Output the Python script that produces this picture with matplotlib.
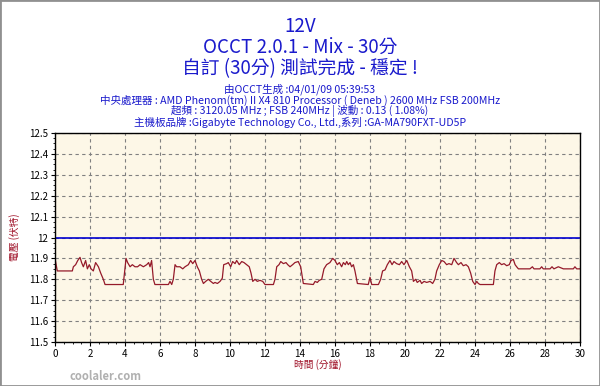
import matplotlib.pyplot as plt
from matplotlib.ticker import MultipleLocator, FormatStrFormatter

plt.rcParams['font.family'] = ['Noto Sans CJK TC', 'DejaVu Sans']

# time (minutes) / 12V reading (volts)
minutes = [0.00, 0.13, 0.99, 1.05, 1.18, 1.30, 1.43, 1.52, 1.62, 1.75, 1.85, 1.96,
           2.06, 2.19, 2.32, 2.48, 2.61, 2.76, 2.86, 3.90, 4.06, 4.15, 4.29, 4.42,
           4.57, 4.72, 4.86, 5.05, 5.24, 5.35, 5.43, 5.52, 5.62, 5.71, 6.48, 6.57,
           6.67, 6.76, 6.86, 6.95, 7.14, 7.30, 7.43, 7.62, 7.75, 7.87, 8.00, 8.13,
           8.25, 8.38, 8.48, 8.61, 8.76, 8.90, 9.05, 9.14, 9.28, 9.43, 9.56, 9.64,
           9.81, 9.90, 10.04, 10.15, 10.29, 10.38, 10.53, 10.67, 10.80, 10.95, 11.10,
           11.20, 11.30, 11.43, 11.56, 11.71, 11.87, 12.00, 12.48, 12.57, 12.67,
           12.80, 12.90, 13.05, 13.20, 13.30, 13.43, 13.58, 13.71, 13.90, 14.04,
           14.19, 14.76, 14.86, 14.99, 15.10, 15.24, 15.37, 15.52, 15.71, 15.87,
           16.00, 16.13, 16.25, 16.38, 16.48, 16.59, 16.67, 16.76, 16.86, 16.95,
           17.05, 17.14, 17.28, 17.90, 18.00, 18.10, 18.48, 18.61, 18.72, 18.86,
           18.99, 19.14, 19.26, 19.37, 19.52, 19.68, 19.81, 19.94, 20.10, 20.25,
           20.38, 20.48, 20.61, 20.70, 20.86, 20.95, 21.09, 21.24, 21.43, 21.58,
           21.71, 21.81, 21.96, 22.10, 22.23, 22.38, 22.51, 22.67, 22.80, 22.95,
           23.05, 23.20, 23.33, 23.49, 23.62, 23.75, 23.87, 24.00, 24.10, 24.19,
           24.29, 25.05, 25.14, 25.24, 25.39, 25.52, 25.66, 25.81, 25.96, 26.06,
           26.19, 26.29, 26.38, 26.48, 27.14, 27.28, 27.37, 27.71, 27.81, 27.90,
           28.29, 28.40, 28.51, 28.76, 28.90, 29.05, 29.62, 29.71, 29.81, 30.00]
volts = [11.90, 11.84, 11.84, 11.86, 11.87, 11.89, 11.905, 11.88, 11.86, 11.89, 11.85, 11.87,
         11.85, 11.84, 11.88, 11.86, 11.83, 11.80, 11.775, 11.775, 11.90, 11.88, 11.86, 11.87,
         11.86, 11.86, 11.87, 11.86, 11.87, 11.88, 11.86, 11.89, 11.80, 11.775, 11.775, 11.79,
         11.775, 11.80, 11.87, 11.86, 11.86, 11.85, 11.86, 11.87, 11.89, 11.875, 11.89, 11.86,
         11.84, 11.80, 11.78, 11.79, 11.80, 11.79, 11.78, 11.785, 11.78, 11.79, 11.805, 11.87,
         11.875, 11.88, 11.86, 11.885, 11.875, 11.89, 11.87, 11.885, 11.88, 11.87, 11.86,
         11.83, 11.79, 11.80, 11.79, 11.795, 11.79, 11.775, 11.775, 11.80, 11.86,
         11.87, 11.885, 11.875, 11.88, 11.87, 11.86, 11.87, 11.88, 11.885, 11.86,
         11.78, 11.775, 11.79, 11.785, 11.795, 11.80, 11.85, 11.87, 11.88, 11.90,
         11.89, 11.87, 11.88, 11.86, 11.88, 11.87, 11.885, 11.87, 11.88, 11.86,
         11.87, 11.84, 11.78, 11.775, 11.81, 11.775, 11.775, 11.80, 11.84, 11.845,
         11.87, 11.89, 11.87, 11.885, 11.875, 11.87, 11.885, 11.87, 11.89, 11.86,
         11.84, 11.79, 11.80, 11.785, 11.795, 11.78, 11.79, 11.785, 11.79, 11.78,
         11.80, 11.84, 11.87, 11.89, 11.885, 11.87, 11.875, 11.87, 11.90, 11.88,
         11.87, 11.88, 11.865, 11.87, 11.86, 11.83, 11.79, 11.775, 11.79, 11.78,
         11.775, 11.775, 11.84, 11.87, 11.88, 11.87, 11.875, 11.865, 11.87, 11.89,
         11.895, 11.87, 11.86, 11.85, 11.85, 11.86, 11.85, 11.85, 11.86, 11.85,
         11.85, 11.86, 11.85, 11.86, 11.855, 11.85, 11.85, 11.86, 11.85, 11.85]
nominal = 12.0

title_lines = ["12V", "OCCT 2.0.1 - Mix - 30分", "自訂 (30分) 測試完成 - 穩定 !"]
info_lines = ["由OCCT生成 :04/01/09 05:39:53",
              "中央處理器 : AMD Phenom(tm) II X4 810 Processor ( Deneb ) 2600 MHz FSB 200MHz",
              "超頻 : 3120.05 MHz ; FSB 240MHz | 波動 : 0.13 ( 1.08%)",
              "主機板品牌 :Gigabyte Technology Co., Ltd.,系列 :GA-MA790FXT-UD5P"]

fig = plt.figure(figsize=(6, 3.86), dpi=100)
fig.patch.set_facecolor('white')
ax = fig.add_axes([55 / 600, 44 / 386, 525 / 600, 209 / 386])
ax.set_facecolor('#fdf7e7')

ax.plot(minutes, volts, color='#951a2a', lw=0.9)
ax.axhline(nominal, color='#0000d0', lw=1.2)

ax.set_xlim(0, 30)
ax.set_ylim(11.5, 12.5)
ax.xaxis.set_major_locator(MultipleLocator(2))
ax.xaxis.set_minor_locator(MultipleLocator(0.5))
ax.yaxis.set_major_locator(MultipleLocator(0.1))
ax.yaxis.set_minor_locator(MultipleLocator(0.025))
ax.yaxis.set_major_formatter(FormatStrFormatter('%g'))
ax.grid(True, which='major', ls=(0, (3, 3)), color='#808080', lw=0.8)
ax.tick_params(labelsize=7, length=3, width=0.8, pad=2, colors='black')
ax.tick_params(which='minor', length=1.5, width=0.6)
for s in ax.spines.values():
    s.set_linewidth(1)
ax.set_xlabel("時間 (分鐘)", color='#a0142a', fontsize=7, labelpad=0)
ax.set_ylabel("電壓 (伏特)", color='#a0142a', fontsize=7, labelpad=6)

for txt, y in zip(title_lines, [27, 47, 69]):
    fig.text(0.5, 1 - y / 386, txt, ha='center', va='center', color='#1a1acc',
             fontsize=13.5)
for txt, y in zip(info_lines, [89, 100, 111, 122]):
    fig.text(0.5, 1 - y / 386, txt, ha='center', va='center', color='#1a1acc',
             fontsize=7.6)

fig.text(70 / 600, 1 - 377 / 386, "coolaler.com", color='#b0b0b0', fontsize=8,
         fontweight='bold', va='center')
fig.add_artist(plt.Rectangle((0, 0), 1, 1, transform=fig.transFigure, fill=False,
                             edgecolor='#909090', lw=2))

fig.savefig("out.png", dpi=100)
